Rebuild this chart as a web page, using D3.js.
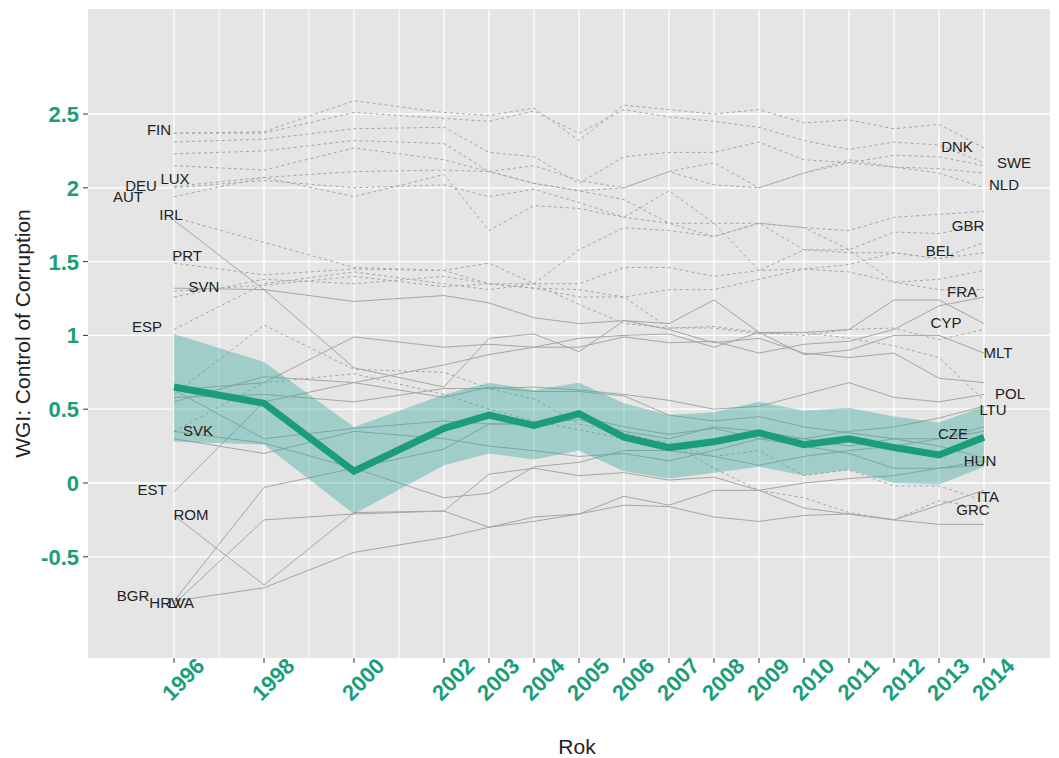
<!DOCTYPE html>
<html>
<head>
<meta charset="utf-8">
<script src="https://cdn.jsdelivr.net/npm/d3@7"></script>
<style>
  body { margin: 0; background: #fff; }
  svg { display: block; font-family: "Liberation Sans", Arial, sans-serif; }
</style>
</head>
<body>
<div id="chart"></div>
<script>
// Data (WGI Control of Corruption estimates)
const years = [1996, 1998, 2000, 2002, 2003, 2004, 2005, 2006, 2007, 2008, 2009, 2010, 2011, 2012, 2013, 2014];
const minorYears = [1997, 1999, 2001];
const yTicks = [-0.5, 0, 0.5, 1, 1.5, 2, 2.5];

// old members (dashed)
const DNK = [2.37, 2.38, 2.59, 2.51, 2.49, 2.54, 2.32, 2.56, 2.53, 2.50, 2.53, 2.44, 2.46, 2.40, 2.43, 2.27];
const FIN = [2.37, 2.37, 2.51, 2.47, 2.45, 2.52, 2.37, 2.53, 2.48, 2.45, 2.41, 2.32, 2.26, 2.31, 2.29, 2.17];
const SWE = [2.31, 2.33, 2.40, 2.41, 2.24, 2.21, 2.03, 2.21, 2.24, 2.24, 2.31, 2.19, 2.17, 2.22, 2.21, 2.15];
const NLD = [2.23, 2.25, 2.32, 2.30, 2.11, 2.15, 2.05, 2.00, 2.11, 2.17, 2.00, 2.10, 2.19, 2.14, 2.10, 2.00];
const GBR = [2.15, 2.12, 2.27, 2.19, 2.11, 2.03, 1.98, 1.92, 1.76, 1.76, 1.76, 1.73, 1.58, 1.70, 1.69, 1.75];
const LUX = [2.01, 2.07, 2.11, 2.12, 2.11, 2.03, 1.98, 2.00, 2.11, 2.02, 2.00, 2.10, 2.17, 2.14, 2.13, 2.10];
const DEU = [2.00, 2.05, 2.00, 2.02, 1.94, 1.99, 1.90, 1.80, 1.76, 1.67, 1.76, 1.73, 1.71, 1.80, 1.82, 1.84];
const AUT = [1.94, 2.07, 1.94, 2.09, 1.71, 1.88, 1.86, 1.80, 1.98, 1.76, 1.44, 1.58, 1.58, 1.36, 1.38, 1.44];
const IRL = [1.80, 1.63, 1.46, 1.44, 1.49, 1.35, 1.58, 1.73, 1.71, 1.67, 1.76, 1.58, 1.56, 1.56, 1.52, 1.63];
const BEL = [1.26, 1.38, 1.35, 1.40, 1.35, 1.32, 1.31, 1.26, 1.31, 1.31, 1.38, 1.45, 1.48, 1.56, 1.52, 1.56];
const FRA = [1.30, 1.34, 1.40, 1.33, 1.35, 1.35, 1.35, 1.46, 1.46, 1.40, 1.44, 1.45, 1.43, 1.36, 1.31, 1.31];
const PRT = [1.49, 1.41, 1.45, 1.44, 1.35, 1.32, 1.26, 1.26, 1.05, 1.06, 1.02, 1.00, 1.04, 1.05, 0.97, 1.04];
const ESP = [1.04, 1.35, 1.43, 1.35, 1.31, 1.35, 1.21, 1.08, 1.05, 1.05, 1.01, 1.02, 0.98, 0.93, 0.85, 0.56];
const ITA = [0.60, 1.07, 0.77, 0.75, 0.64, 0.57, 0.40, 0.34, 0.26, 0.18, 0.22, 0.05, 0.09, -0.02, -0.02, -0.12];
const GRC = [0.35, 0.68, 0.74, 0.60, 0.50, 0.42, 0.36, 0.30, 0.28, 0.10, -0.05, -0.10, -0.20, -0.25, -0.12, -0.17];

// new members (solid)
const MLT = [1.78, 1.31, 0.78, 0.65, 0.98, 1.01, 0.89, 1.10, 1.08, 1.24, 1.02, 0.87, 0.90, 1.00, 1.00, 0.88];
const CYP = [0.63, 0.68, 0.99, 0.92, 0.94, 0.92, 0.98, 1.00, 1.01, 0.92, 1.02, 1.02, 1.04, 1.24, 1.24, 1.08];
const SVN = [1.32, 1.31, 1.23, 1.27, 1.22, 1.12, 1.08, 1.10, 1.04, 0.95, 0.98, 0.88, 0.85, 0.88, 0.71, 0.68];
const EST = [-0.06, 0.55, 0.68, 0.80, 0.87, 0.92, 0.92, 0.99, 0.95, 0.96, 0.88, 0.94, 0.96, 1.04, 1.20, 1.26];
const POL = [0.58, 0.60, 0.55, 0.64, 0.64, 0.65, 0.63, 0.60, 0.56, 0.50, 0.52, 0.60, 0.68, 0.58, 0.55, 0.60];
const HUN = [0.55, 0.72, 0.68, 0.58, 0.65, 0.62, 0.62, 0.59, 0.46, 0.42, 0.45, 0.38, 0.34, 0.30, 0.25, 0.17];
const LTU = [0.30, 0.20, 0.35, 0.30, 0.25, 0.22, 0.18, 0.20, 0.15, 0.22, 0.30, 0.30, 0.35, 0.38, 0.44, 0.52];
const CZE = [0.63, 0.30, 0.37, 0.42, 0.40, 0.40, 0.43, 0.35, 0.30, 0.38, 0.35, 0.30, 0.25, 0.30, 0.30, 0.38];
const SVK = [0.35, 0.27, 0.10, 0.23, 0.40, 0.40, 0.45, 0.38, 0.33, 0.37, 0.30, 0.25, 0.20, 0.10, 0.10, 0.12];
const LVA = [-0.80, -0.03, 0.10, -0.10, -0.07, 0.11, 0.14, 0.22, 0.22, 0.18, 0.12, 0.18, 0.22, 0.25, 0.30, 0.35];
const HRV = [-0.82, -0.25, -0.21, -0.19, 0.06, 0.10, 0.05, 0.07, 0.02, 0.04, -0.05, 0.00, 0.03, 0.05, 0.10, 0.15];
const ROM = [-0.22, -0.69, -0.20, -0.19, -0.30, -0.23, -0.21, -0.09, -0.15, -0.05, -0.05, -0.17, -0.21, -0.25, -0.15, -0.05];
const BGR = [-0.80, -0.71, -0.47, -0.37, -0.30, -0.26, -0.21, -0.15, -0.16, -0.23, -0.26, -0.22, -0.21, -0.25, -0.28, -0.28];

// average of new members with band
const meanNew  = [0.65, 0.54, 0.08, 0.37, 0.46, 0.39, 0.47, 0.31, 0.24, 0.28, 0.34, 0.26, 0.30, 0.24, 0.19, 0.31];
const upperNew = [1.01, 0.82, 0.38, 0.60, 0.68, 0.63, 0.68, 0.54, 0.46, 0.48, 0.55, 0.49, 0.51, 0.45, 0.41, 0.52];
const lowerNew = [0.28, 0.26, -0.21, 0.12, 0.20, 0.16, 0.22, 0.08, 0.03, 0.07, 0.11, 0.05, 0.09, 0.00, -0.01, 0.11];

const leftLabels = ["FIN", "LUX", "DEU", "AUT", "IRL", "PRT", "SVN", "ESP", "SVK", "EST", "ROM", "BGR", "HRV", "LVA"];
const rightLabels = ["DNK", "SWE", "NLD", "GBR", "BEL", "FRA", "CYP", "MLT", "POL", "LTU", "CZE", "HUN", "ITA", "GRC"];

const oldSeries = { DNK, FIN, SWE, NLD, GBR, LUX, DEU, AUT, IRL, BEL, FRA, PRT, ESP, ITA, GRC };
const newSeries = { MLT, CYP, SVN, EST, POL, HUN, LTU, CZE, SVK, LVA, HRV, ROM, BGR };

const series = [];
Object.keys(oldSeries).forEach(k => series.push({ code: k, dashed: true, values: oldSeries[k] }));
Object.keys(newSeries).forEach(k => series.push({ code: k, dashed: false, values: newSeries[k] }));

// label nudges (px) so the text sits like the original repelled labels
const nudge = {
    FIN: [-15, -3], LUX: [1, -8], DEU: [-33, -2], AUT: [-46, 0], IRL: [-3, -3], PRT: [13, -7],
    SVN: [30, -1], ESP: [-27, -3], SVK: [24, -1], EST: [-22, -2], ROM: [17, -1], BGR: [-41, -5],
    HRV: [-9, -1], LVA: [7, 2],
    DNK: [-27, -1], SWE: [30, -3], NLD: [20, -3], GBR: [-16, 1], BEL: [-44, -2], FRA: [-22, 2],
    CYP: [-38, -1], MLT: [14, 0], POL: [26, -1], LTU: [9, 4], CZE: [-31, 7], HUN: [-4, 3],
    ITA: [4, -4], GRC: [-11, 2]
};

// Set up SVG
const W = 1059, H = 758;
const panel = { left: 88, right: 1050, top: 9, bottom: 658 };
const green = "#1b9e77";

const svg = d3.select("#chart").append("svg")
    .attr("width", W)
    .attr("height", H);

const x = d3.scaleLinear().domain([1996, 2014]).range([174, 984]);
const y = d3.scaleLinear().domain([0, 2.5]).range([483, 114]);

svg.append("rect")
    .attr("x", panel.left).attr("y", panel.top)
    .attr("width", panel.right - panel.left)
    .attr("height", panel.bottom - panel.top)
    .attr("fill", "#e5e5e5");

// grid
const grid = svg.append("g").attr("stroke", "#fff");
grid.selectAll(".vminor").data(minorYears).enter().append("line")
    .attr("x1", d => x(d)).attr("x2", d => x(d))
    .attr("y1", panel.top).attr("y2", panel.bottom)
    .attr("stroke-width", 1);
grid.selectAll(".vmajor").data(years).enter().append("line")
    .attr("x1", d => x(d)).attr("x2", d => x(d))
    .attr("y1", panel.top).attr("y2", panel.bottom)
    .attr("stroke-width", 1.3);
grid.selectAll(".hmajor").data(yTicks).enter().append("line")
    .attr("x1", panel.left).attr("x2", panel.right)
    .attr("y1", d => y(d)).attr("y2", d => y(d))
    .attr("stroke-width", 1.3);

// country lines
const line = d3.line()
    .x((d, i) => x(years[i]))
    .y(d => y(d));

svg.append("g").selectAll("path")
    .data(series)
    .enter()
    .append("path")
    .attr("d", d => line(d.values))
    .attr("fill", "none")
    .attr("stroke", "#a6a6a6")
    .attr("stroke-width", 1)
    .attr("stroke-dasharray", d => d.dashed ? "3,3" : null);

// band + mean
const area = d3.area()
    .x((d, i) => x(years[i]))
    .y0((d, i) => y(lowerNew[i]))
    .y1((d, i) => y(upperNew[i]));

svg.append("path")
    .attr("d", area(years))
    .attr("fill", "#39a99d")
    .attr("fill-opacity", 0.4);

svg.append("path")
    .attr("d", line(meanNew))
    .attr("fill", "none")
    .attr("stroke", green)
    .attr("stroke-width", 7)
    .attr("stroke-linejoin", "miter");

// country labels
const labels = svg.append("g")
    .attr("font-size", "15px")
    .attr("fill", "#222")
    .attr("text-anchor", "middle");

series.forEach(s => {
    let i;
    if (leftLabels.includes(s.code)) i = 0;
    else if (rightLabels.includes(s.code)) i = years.length - 1;
    else return;
    const n = nudge[s.code] || [0, 0];
    labels.append("text")
        .attr("x", x(years[i]) + n[0])
        .attr("y", y(s.values[i]) + n[1])
        .attr("dy", "0.35em")
        .text(s.code);
});

// axes
const yAxis = svg.append("g");
yAxis.selectAll("line").data(yTicks).enter().append("line")
    .attr("x1", panel.left - 5).attr("x2", panel.left)
    .attr("y1", d => y(d)).attr("y2", d => y(d))
    .attr("stroke", "#333").attr("stroke-width", 1);
yAxis.selectAll("text").data(yTicks).enter().append("text")
    .attr("x", panel.left - 9)
    .attr("y", d => y(d))
    .attr("dy", "0.36em")
    .attr("text-anchor", "end")
    .attr("font-size", "22px")
    .attr("font-weight", "bold")
    .attr("fill", green)
    .text(d => d);

const xAxis = svg.append("g");
xAxis.selectAll("line").data(years).enter().append("line")
    .attr("x1", d => x(d)).attr("x2", d => x(d))
    .attr("y1", panel.bottom).attr("y2", panel.bottom + 5)
    .attr("stroke", "#333").attr("stroke-width", 1);
xAxis.selectAll("text").data(years).enter().append("text")
    .attr("transform", d => `translate(${x(d) + 9},${panel.bottom + 21}) rotate(-45)`)
    .attr("dy", "0.36em")
    .attr("text-anchor", "middle")
    .attr("font-size", "22px")
    .attr("font-weight", "bold")
    .attr("fill", green)
    .text(d => d);

// axis titles
svg.append("text")
    .attr("x", 577)
    .attr("y", 746)
    .attr("dy", "0.36em")
    .attr("text-anchor", "middle")
    .attr("font-size", "21px")
    .attr("fill", "#222")
    .text("Rok");

svg.append("text")
    .attr("transform", `translate(22,${(panel.top + panel.bottom) / 2}) rotate(-90)`)
    .attr("dy", "0.36em")
    .attr("text-anchor", "middle")
    .attr("font-size", "21px")
    .attr("fill", "#222")
    .text("WGI: Control of Corruption");
</script>
</body>
</html>
